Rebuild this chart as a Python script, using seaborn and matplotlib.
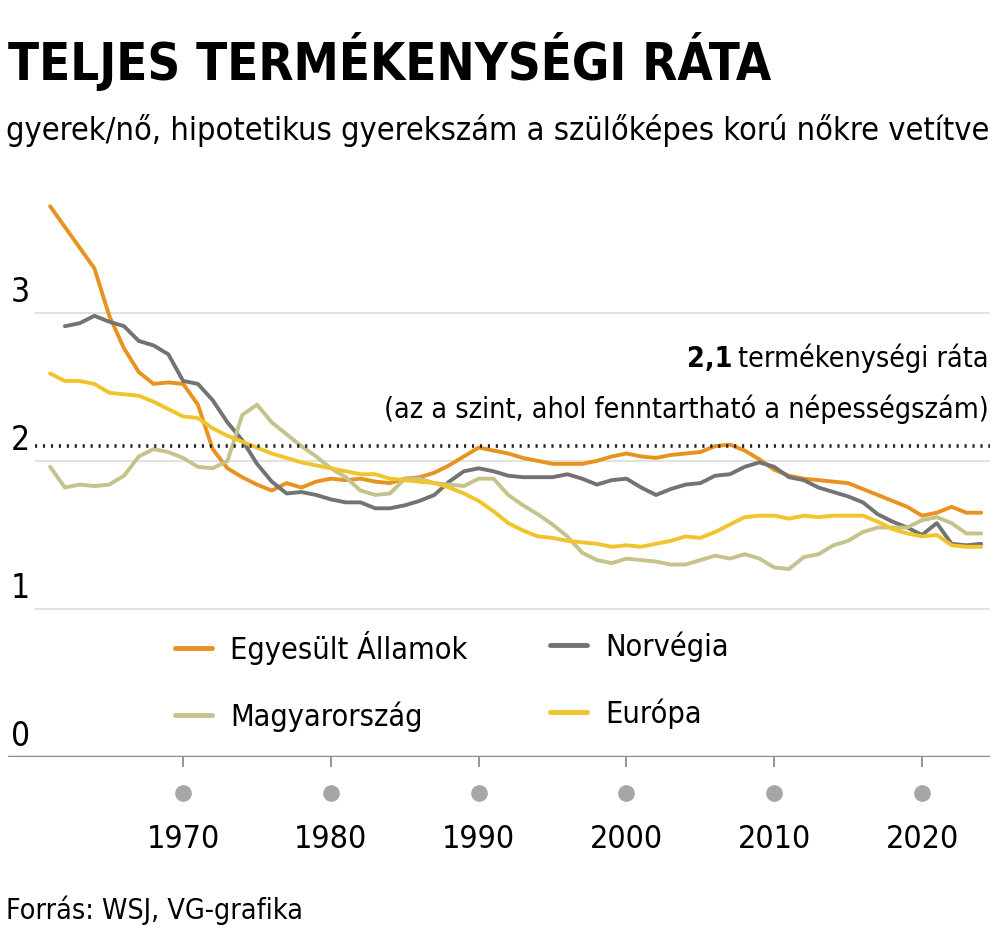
import pandas as pd
import seaborn as sns
import matplotlib.pyplot as plt
from matplotlib.lines import Line2D

# teljes termékenységi ráta, leolvasva az ábráról
years = list(range(1961, 2025))
years_nor = list(range(1962, 2025))

usa = [3.72, 3.58, 3.44, 3.30, 2.98, 2.76, 2.60, 2.52, 2.53, 2.52,
       2.38, 2.08, 1.95, 1.89, 1.84, 1.80, 1.85, 1.82, 1.86, 1.88,
       1.87, 1.88, 1.86, 1.85, 1.88, 1.89, 1.92, 1.97, 2.03, 2.09,
       2.07, 2.05, 2.02, 2.00, 1.98, 1.98, 1.98, 2.00, 2.03, 2.05,
       2.03, 2.02, 2.04, 2.05, 2.06, 2.10, 2.11, 2.07, 2.01, 1.94,
       1.90, 1.88, 1.87, 1.86, 1.85, 1.81, 1.77, 1.73, 1.69, 1.63,
       1.65, 1.69, 1.65, 1.65]

norway = [2.91, 2.93, 2.98, 2.94, 2.91, 2.81, 2.78, 2.72, 2.54,
          2.52, 2.41, 2.26, 2.14, 1.98, 1.86, 1.78, 1.79, 1.77, 1.74,
          1.72, 1.72, 1.68, 1.68, 1.70, 1.73, 1.77, 1.86, 1.93, 1.95,
          1.93, 1.90, 1.89, 1.89, 1.89, 1.91, 1.88, 1.84, 1.87, 1.88,
          1.82, 1.77, 1.81, 1.84, 1.85, 1.90, 1.91, 1.96, 1.99, 1.96,
          1.89, 1.87, 1.82, 1.79, 1.76, 1.72, 1.64, 1.59, 1.55, 1.50,
          1.58, 1.44, 1.43, 1.44]

hungary = [1.96, 1.82, 1.84, 1.83, 1.84, 1.90, 2.03, 2.08, 2.06, 2.02,
           1.96, 1.95, 2.00, 2.31, 2.38, 2.26, 2.18, 2.10, 2.03, 1.95,
           1.89, 1.80, 1.77, 1.78, 1.88, 1.88, 1.85, 1.84, 1.83, 1.88,
           1.88, 1.77, 1.70, 1.64, 1.57, 1.49, 1.38, 1.33, 1.31, 1.34,
           1.33, 1.32, 1.30, 1.30, 1.33, 1.36, 1.34, 1.37, 1.34, 1.28,
           1.27, 1.35, 1.37, 1.43, 1.46, 1.52, 1.55, 1.55, 1.55, 1.60,
           1.62, 1.58, 1.51, 1.51]

europe = [2.59, 2.54, 2.54, 2.52, 2.46, 2.45, 2.44, 2.40, 2.35, 2.30,
          2.29, 2.22, 2.17, 2.13, 2.09, 2.05, 2.02, 1.99, 1.97, 1.95,
          1.93, 1.91, 1.91, 1.88, 1.87, 1.86, 1.85, 1.82, 1.78, 1.73,
          1.66, 1.58, 1.53, 1.49, 1.48, 1.46, 1.45, 1.44, 1.42, 1.43,
          1.42, 1.44, 1.46, 1.49, 1.48, 1.52, 1.57, 1.62, 1.63, 1.63,
          1.61, 1.63, 1.62, 1.63, 1.63, 1.63, 1.59, 1.54, 1.51, 1.49,
          1.50, 1.43, 1.42, 1.42]

names = ["Egyesült Államok", "Norvégia", "Magyarország", "Európa"]
colors = {"Egyesült Államok": "#E8921F", "Norvégia": "#737373",
          "Magyarország": "#C5C28C", "Európa": "#F0C42C"}

y_ticks = [0, 1, 2, 3]
decades = [1970, 1980, 1990, 2000, 2010, 2020]
replacement = 2.1

df = pd.concat([
    pd.DataFrame({"ev": years, "rata": usa, "orszag": names[0]}),
    pd.DataFrame({"ev": years_nor, "rata": norway, "orszag": names[1]}),
    pd.DataFrame({"ev": years, "rata": hungary, "orszag": names[2]}),
    pd.DataFrame({"ev": years, "rata": europe, "orszag": names[3]}),
])

sns.set_style("white")
plt.rcParams["font.family"] = ["DejaVu Sans"]
plt.rcParams["font.stretch"] = "condensed"
plt.rcParams["text.color"] = "black"
plt.rcParams["xtick.color"] = "black"

fig = plt.figure(figsize=(10, 9.39), dpi=100)
ax = fig.add_axes([0.008, 0.1938, 0.982, 0.6039])

# rácsvonalak és alapvonal
ax.hlines(y_ticks[1:], 1960, 2024.6, color="#dcdcdc", lw=1.2, zorder=0)
ax.axhline(0, color="#8c8c8c", lw=2.5, zorder=1)

sns.lineplot(data=df, x="ev", y="rata", hue="orszag", palette=colors,
             hue_order=names, linewidth=2.8, ax=ax, legend=False)

# 2,1-es szint
ax.hlines(replacement, 1960, 2024.6, color="#222222", lw=2.6,
          linestyles=(0, (0.6, 1.6)), zorder=5)

ax.set_xlim(1958.15, 2024.6)
ax.set_ylim(0, 3.83)
for s in ax.spines.values():
    s.set_visible(False)
ax.set_xlabel("")
ax.set_ylabel("")
ax.set_yticks([])
ax.set_xticks(decades)
ax.set_xticklabels([str(d) for d in decades], fontsize=23)
ax.tick_params(axis="x", length=7, width=1.3, color="#8c8c8c", pad=41,
               direction="out", bottom=True, labelcolor="black")

# szürke pontok az évszámok fölött
ax.plot(decades, [-0.243] * len(decades), "o", color="#a6a6a6",
        markersize=11, clip_on=False)

# y címkék a vonalak fölött
for v in y_ticks:
    ax.text(0.003, v + 0.025, str(v), transform=ax.get_yaxis_transform(),
            fontsize=24, ha="left", va="bottom")

# magyarázó szöveg
t1 = ax.text(0.999, 2.69, "termékenységi ráta", transform=ax.get_yaxis_transform(),
             fontsize=20.5, ha="right", va="center")
fig.canvas.draw()
bb = t1.get_window_extent()
x_left = ax.transAxes.inverted().transform((bb.x0 - 6, bb.y0))[0]
ax.text(x_left, 2.69, "2,1", transform=ax.get_yaxis_transform(),
        fontsize=20.5, fontweight="bold", ha="right", va="center")
ax.text(0.999, 2.35, "(az a szint, ahol fenntartható a népességszám)",
        transform=ax.get_yaxis_transform(), fontsize=20.5, ha="right", va="center")

# jelmagyarázat két oszlopban
def handles(keys):
    return [Line2D([], [], color=colors[k], lw=3.5) for k in keys]

leg_kw = dict(loc="upper left", frameon=False, fontsize=22, handlelength=1.2,
              handletextpad=0.6, labelspacing=1.2, borderaxespad=0)
fig.legend(handles([names[0], names[2]]), [names[0], names[2]],
           bbox_to_anchor=(0.163, 0.341), **leg_kw)
fig.legend(handles([names[1], names[3]]), [names[1], names[3]],
           bbox_to_anchor=(0.538, 0.341), **leg_kw)

# cím, alcím, forrás
fig.text(0.008, 0.935, "TELJES TERMÉKENYSÉGI RÁTA", fontsize=36.5,
         fontweight="bold", ha="left", va="center")
fig.text(0.006, 0.861, "gyerek/nő, hipotetikus gyerekszám a szülőképes korú nőkre vetítve",
         fontsize=23.3, ha="left", va="center")
fig.text(0.006, 0.031, "Forrás: WSJ, VG-grafika", fontsize=20.5,
         ha="left", va="center")

plt.savefig("out.png", dpi=100)
